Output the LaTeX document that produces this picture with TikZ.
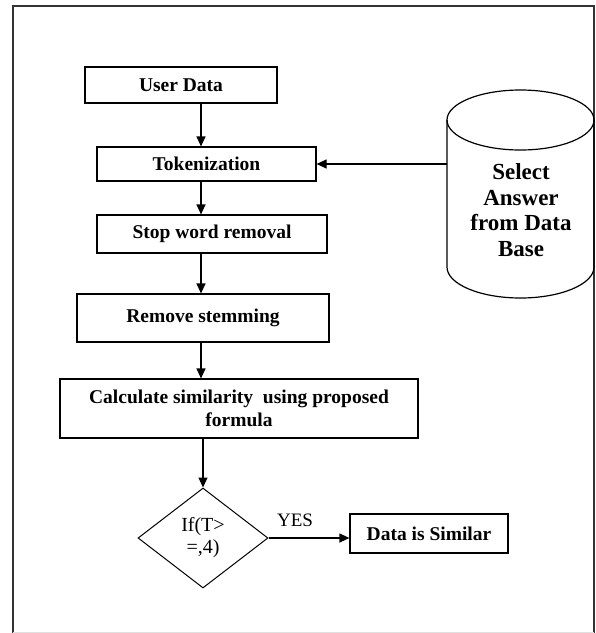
\documentclass[tikz,border=0pt]{standalone}
\usepackage{fontspec}
\setmainfont{Liberation Serif}
\usetikzlibrary{shapes.geometric,arrows.meta}
\begin{document}
\begin{tikzpicture}[x=1pt,y=-1pt,
  box/.style={draw, line width=1.2pt, inner sep=0pt, align=center,
    font=\bfseries\fontsize{19.5}{23}\selectfont},
  arr/.style={line width=1.2pt, -{Triangle[length=10pt,width=9pt]}},
  lbl/.style={inner sep=0pt, font=\fontsize{19}{22}\selectfont}]
\useasboundingbox (0,0) rectangle (596,633);

% outer frame
\draw[line width=1.6pt, black!80] (13,633) -- (13,6) -- (594,6) -- (594,633);
\draw[line width=1pt, black!12] (13,632) -- (594,632);

% process boxes
\node[box, minimum width=192pt, minimum height=36pt] (ud) at (181,85) {User Data};
\node[box, minimum width=219pt, minimum height=34pt] (tok) at (206.5,164) {Tokenization};
\node[box, minimum width=230pt, minimum height=38pt] (sw) at (212,234) {Stop word removal};
\node[box, minimum width=252pt, minimum height=48pt] (rs) at (203,318) {Remove stemming};
\node[box, minimum width=358pt, minimum height=59pt] (calc) at (239,408.5)
  {Calculate similarity~ using proposed\\formula};
\node[draw, diamond, line width=1pt, inner sep=0pt, minimum width=130pt,
  minimum height=100pt, align=center, font=\fontsize{20}{22}\selectfont]
  (dec) at (203,538) {If(T>\\=,4)};
\node[box, minimum width=158pt, minimum height=39pt] (sim) at (429,533.5) {Data is Similar};

% database cylinder
\draw[line width=1.2pt] (447,120) -- (447,267)
  arc[start angle=180, end angle=0, x radius=73.5, y radius=31] -- (594,120);
\draw[line width=1.2pt] (520.5,120) ellipse [x radius=73.5, y radius=30];
\node[minimum width=147pt, minimum height=208pt, inner sep=0pt] (db) at (520.5,194) {};
\node[align=center, inner sep=0pt, font=\bfseries\fontsize{23}{25.5}\selectfont]
  (dbtext) at (521,210) {Select\\Answer\\from Data\\Base};

% connectors
\coordinate (spine) at (201,0);
\draw[arr] (ud.south -| spine) -- (tok.north -| spine);
\draw[arr] (tok.south -| spine) -- (sw.north -| spine);
\draw[arr] (sw.south -| spine) -- (rs.north -| spine);
\draw[arr] (rs.south -| spine) -- (calc.north -| spine);
\draw[arr] (calc.south -| dec.north) -- (dec.north);
\draw[arr] (db.west |- tok.east) -- (tok.east);
\draw[arr] (dec.east) -- (sim.west |- dec.east);
\node[lbl] (yes) at (295,520) {YES};
\end{tikzpicture}
\end{document}
